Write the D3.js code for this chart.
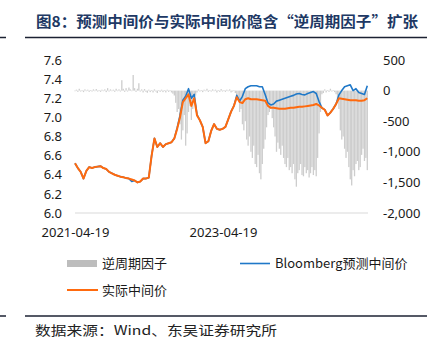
<!DOCTYPE html>
<html><head><meta charset="utf-8">
<script src="https://cdn.jsdelivr.net/npm/d3@7"></script>
<style>
html,body{margin:0;padding:0;background:#fff;}
svg{display:block;}
</style></head>
<body>
<svg id="c" width="435" height="349"></svg>
<script>
// ---- data ----
const startDate = "2021-04-19";
const lineStepDays = 14;   // spacing of line observations
const barStepDays = 7;     // spacing of bar observations
const xTickLabels = ["2021-04-19", "2023-04-19"];
const leftTicks = [6.0, 6.2, 6.4, 6.6, 6.8, 7.0, 7.2, 7.4, 7.6];
const rightTicks = [-2000, -1500, -1000, -500, 0, 500];

// 实际中间价 (orange)
const actualFixing = [
 6.52,6.47,6.43,6.36,6.44,6.48,6.47,6.48,6.485,6.49,
 6.47,6.46,6.43,6.415,6.40,6.39,6.38,6.375,6.365,6.36,
 6.35,6.34,6.32,6.33,6.36,6.36,6.37,6.60,6.78,6.69,
 6.73,6.69,6.72,6.73,6.74,6.78,6.88,7.00,7.16,7.20,
 7.24,7.12,7.20,7.02,6.97,6.90,6.73,6.75,6.86,6.93,
 6.88,6.87,6.88,6.90,6.98,7.06,7.12,7.21,7.16,7.15,
 7.19,7.20,7.19,7.19,7.19,7.185,7.18,7.175,7.12,7.10,
 7.10,7.095,7.09,7.09,7.09,7.095,7.10,7.10,7.105,7.11,
 7.11,7.115,7.12,7.125,7.13,7.14,7.125,7.10,7.08,7.02,
 7.05,7.09,7.14,7.20,7.195,7.19,7.185,7.18,7.18,7.18,
 7.175,7.175,7.18,7.20
];
// Bloomberg预测中间价 (blue)
const bloombergForecast = [
 6.52,6.47,6.43,6.36,6.44,6.48,6.47,6.48,6.485,6.49,
 6.47,6.46,6.43,6.415,6.40,6.39,6.38,6.375,6.365,6.36,
 6.33,6.34,6.32,6.33,6.36,6.36,6.37,6.60,6.78,6.69,
 6.73,6.69,6.72,6.73,6.74,6.78,6.89,7.02,7.18,7.22,
 7.30,7.20,7.24,7.03,6.97,6.90,6.73,6.75,6.86,6.93,
 6.88,6.87,6.88,6.90,6.98,7.06,7.12,7.23,7.17,7.22,
 7.30,7.32,7.33,7.33,7.33,7.32,7.32,7.24,7.15,7.13,
 7.14,7.17,7.18,7.19,7.20,7.21,7.22,7.23,7.245,7.25,
 7.24,7.235,7.25,7.26,7.27,7.25,7.165,7.10,7.08,7.02,
 7.05,7.09,7.14,7.235,7.28,7.32,7.33,7.34,7.28,7.30,
 7.26,7.25,7.24,7.33
];
// 逆周期因子 (bars, right axis)
const counterCyclical = [
 -10,15,-20,30,-15,10,-25,20,-10,15,
 -20,10,-15,20,-10,25,-15,10,-20,15,
 -10,20,-25,40,-15,20,-10,15,-20,30,
 -10,20,-15,170,30,-20,40,-15,50,20,
 -10,255,40,-20,30,120,-15,20,-30,25,
 -20,-35,15,-25,10,-30,20,-15,-40,10,
 -20,15,-25,10,-30,15,-20,10,-30,-50,
 -80,
 -200,-350,-300,-550,-800,-650,-400,-900,-700,-350,-250,-480,-300,-150,-80,
 -30,20,-15,10,-25,15,-10,30,-20,10,
 -15,20,-10,15,-30,10,-20,25,-15,10,
 -20,15,-10,20,-30,-15,10,-40,-80,
 -150,-350,-300,-550,-650,-500,-800,-900,-750,-1000,
 -1100,-900,-1200,-1250,-1050,-1350,-1450,-1200,-950,-800,
 -600,-400,-350,-300,
 -450,-600,-750,-1000,-850,-950,-1050,-900,-1100,-1200,
 -1250,-1100,-1300,-1250,-1350,-1200,-1450,-1570,-1350,-1300,
 -1200,-1380,-1400,-1250,-1350,-1300,-1420,-1350,-1250,-1380,
 -1300,-1400,-1100,-700,-350,-60,
 -40,20,-30,10,-20,30,-15,10,-25,-60,-150,
 -300,-650,-800,-750,-950,-1100,-1000,-1250,-1450,-1550,
 -1300,-1400,-1200,-1150,-1300,-1250,-1050,-950,-1150,-1100,
 -1300
];

// ---- chart ----
const svg = d3.select("#c");
const parse = d3.timeParse("%Y-%m-%d");
const t0 = parse(startDate);
const lineDates = actualFixing.map((_, i) => d3.timeDay.offset(t0, i * lineStepDays));
const barDates = counterCyclical.map((_, i) => d3.timeDay.offset(t0, i * barStepDays));
const tEnd = d3.max([lineDates[lineDates.length - 1], barDates[barDates.length - 1]]);

const x = d3.scaleTime().domain([t0, tEnd]).range([75, 367.3]);
const yL = d3.scaleLinear().domain([6.0, 7.6]).range([213, 60]);
const yR = d3.scaleLinear().domain([-2000, 500]).range([213, 60]);

const numFont = "'Noto Sans', 'DejaVu Sans', sans-serif";
const cjkFont = "'Noto Sans CJK SC', sans-serif";

// title
svg.append("text").attr("x", 36).attr("y", 26.5)
  .attr("font-family", cjkFont).attr("font-weight", "bold").attr("font-size", 14.5)
  .attr("fill", "#203864").attr("textLength", 382).attr("lengthAdjust", "spacingAndGlyphs")
  .text("图8：预测中间价与实际中间价隐含“逆周期因子”扩张");

// rules
[37.5, 316].forEach(yy => {
  svg.append("line").attr("x1", 25).attr("x2", 427).attr("y1", yy).attr("y2", yy)
    .attr("stroke", "#1c2233").attr("stroke-width", 1.5);
  svg.append("line").attr("x1", 0).attr("x2", 6).attr("y1", yy).attr("y2", yy)
    .attr("stroke", "#1c2233").attr("stroke-width", 1.5);
});

// gridline at bottom
svg.append("line").attr("x1", 75).attr("x2", 368).attr("y1", yL(6.0)).attr("y2", yL(6.0))
  .attr("stroke", "#d9d9d9").attr("stroke-width", 1);

// bars
svg.append("g").selectAll("rect").data(counterCyclical).join("rect")
  .attr("x", (d, i) => x(barDates[i]) - 0.65)
  .attr("width", 1.3)
  .attr("y", d => Math.min(yR(d), yR(0)))
  .attr("height", d => Math.max(0.6, Math.abs(yR(d) - yR(0))))
  .attr("fill", "#cdcdcd");

// lines
const lineGen = arr => d3.line().x((d, i) => x(lineDates[i])).y(d => yL(d))(arr);
svg.append("path").attr("d", lineGen(bloombergForecast)).attr("fill", "none")
  .attr("stroke", "#1f78c8").attr("stroke-width", 1.6).attr("stroke-linejoin", "round");
svg.append("path").attr("d", lineGen(actualFixing)).attr("fill", "none")
  .attr("stroke", "#ff6a0e").attr("stroke-width", 2).attr("stroke-linejoin", "round");

// axes
const axL = svg.append("g").attr("transform", "translate(65,0)")
  .call(d3.axisLeft(yL).tickValues(leftTicks).tickSize(0).tickPadding(3).tickFormat(d3.format(".1f")));
const axR = svg.append("g").attr("transform", "translate(380,0)")
  .call(d3.axisRight(yR).tickValues(rightTicks).tickSize(0).tickPadding(3).tickFormat(d3.format(",")));
const axB = svg.append("g").attr("transform", "translate(0,213)")
  .call(d3.axisBottom(x).tickValues(xTickLabels.map(parse)).tickSize(0).tickPadding(15).tickFormat(d3.timeFormat("%Y-%m-%d")));
[axL, axR, axB].forEach(a => {
  a.select(".domain").remove();
  a.selectAll("text").attr("font-family", numFont).attr("font-size", 13).attr("fill", "#1a1a1a");
});
axR.selectAll("text").text(d => d3.format(",")(d).replace("−", "-"));

// legend
const lg = svg.append("g").attr("font-family", cjkFont).attr("font-size", 13).attr("fill", "#1a1a1a");
lg.append("rect").attr("x", 67).attr("y", 260).attr("width", 30).attr("height", 7).attr("fill", "#bdbdbd");
lg.append("text").attr("x", 102).attr("y", 268).text("逆周期因子");
lg.append("line").attr("x1", 240).attr("x2", 270).attr("y1", 263.5).attr("y2", 263.5)
  .attr("stroke", "#1f78c8").attr("stroke-width", 1.6);
lg.append("text").attr("x", 275).attr("y", 268).text("Bloomberg预测中间价");
lg.append("line").attr("x1", 67).attr("x2", 98).attr("y1", 290).attr("y2", 290)
  .attr("stroke", "#ff6a0e").attr("stroke-width", 2);
lg.append("text").attr("x", 102).attr("y", 294.5).text("实际中间价");

// source
svg.append("text").attr("x", 35).attr("y", 335).attr("font-family", cjkFont)
  .attr("font-size", 13).attr("fill", "#222").attr("textLength", 242).attr("lengthAdjust", "spacingAndGlyphs")
  .text("数据来源：Wind、东吴证券研究所");
</script>
</body></html>
